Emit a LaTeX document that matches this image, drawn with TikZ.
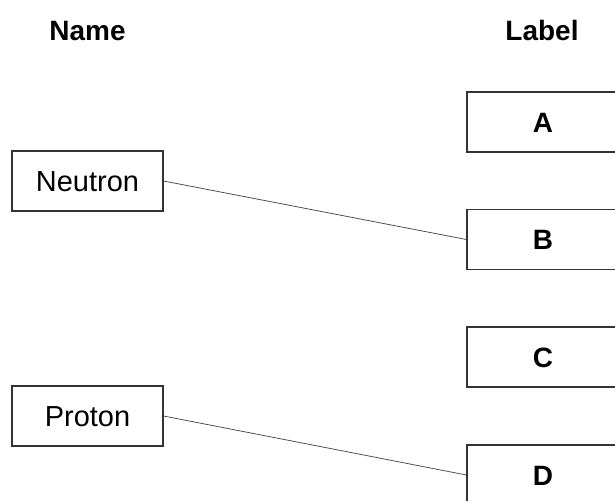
\documentclass[tikz,border=0pt]{standalone}
\usepackage{fontspec}
\setmainfont{Liberation Sans}
\usetikzlibrary{backgrounds,shapes,fit}
\pgfdeclarelayer{edgelayer}
\pgfdeclarelayer{nodelayer}
\pgfsetlayers{edgelayer,nodelayer,main}
\tikzset{font=\fontsize{20.6pt}{24pt}\selectfont}
\tikzstyle{none}=[inner sep=0pt]
\tikzstyle{head}=[inner sep=0pt,font=\fontsize{19.9pt}{24pt}\selectfont\bfseries,text height=14.25pt,text depth=0pt]
\tikzstyle{namebox}=[rectangle,draw=black!80,line width=0.9pt,minimum width=3.775cm,minimum height=1.5cm,inner sep=0pt,text height=14.75pt,text depth=0pt]
\tikzstyle{labelbox}=[rectangle,draw=black!80,line width=0.9pt,minimum width=3.8cm,minimum height=1.5cm,inner sep=0pt,text height=14.25pt,text depth=0pt,font=\fontsize{19.9pt}{24pt}\selectfont\bfseries]
\tikzstyle{link}=[draw=black!70,line width=0.55pt]

\begin{document}
\begin{tikzpicture}
	\useasboundingbox (0, 0) rectangle (15.375, -12.525);
	\clip (0, 0) rectangle (15.375, -12.525);
	\begin{pgfonlayer}{nodelayer}
		\node [style=head] (0) at (2.1875, -0.75) {Name};
		\node [style=head] (1) at (13.55, -0.75) {Label};
		\node [style=namebox] (2) at (2.1875, -4.525) {Neutron};
		\node [style=namebox] (3) at (2.1875, -10.4) {Proton};
		\node [style=labelbox] (4) at (13.575, -3.05) {A};
		\node [style=labelbox] (5) at (13.575, -5.9875) {B};
		\node [style=labelbox] (6) at (13.575, -8.925) {C};
		\node [style=labelbox] (7) at (13.575, -11.875) {D};
	\end{pgfonlayer}
	\begin{pgfonlayer}{edgelayer}
		\draw [style=link] (2.east) to (5.west);
		\draw [style=link] (3.east) to (7.west);
	\end{pgfonlayer}
\end{tikzpicture}
\end{document}
